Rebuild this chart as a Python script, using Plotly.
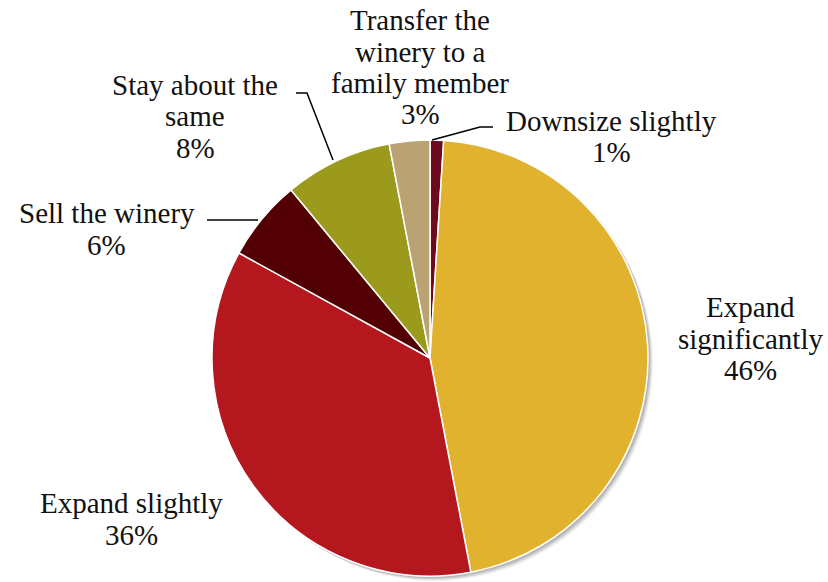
import plotly.graph_objects as go

W, H = 828, 582

# Survey answers, in clockwise order from 12 o'clock
categories = [
    "Downsize slightly",
    "Expand significantly",
    "Expand slightly",
    "Sell the winery",
    "Stay about the same",
    "Transfer the winery to a family member",
]
values = [1, 46, 36, 6, 8, 3]
colors = ["#6E0A1E", "#E1B22E", "#B4181E", "#520004", "#9C9A1C", "#BAA273"]

# How each category label wraps onto lines
label_lines = [
    ["Downsize slightly"],
    ["Expand", "significantly"],
    ["Expand slightly"],
    ["Sell the winery"],
    ["Stay about the", "same"],
    ["Transfer the", "winery to a", "family member"],
]
# Label block anchor (centre x, first-line centre y) in pixels
label_anchor = [
    (611, 121),
    (750, 307),
    (131, 503),
    (107, 213),
    (195, 85),
    (420, 20),
]
LINE_H = 31.5

# Leader lines (pixel polylines)
leaders = {
    "Downsize slightly": [(432, 140), (480, 127), (493, 127)],
    "Stay about the same": [(296, 93), (307, 93), (333, 160)],
    "Sell the winery": [(207, 220), (258, 220)],
}

# Pie placement in pixels
cx, cy, r = 430, 358, 218

FONT = "Liberation Serif"
FSIZE = 29


def px(x):
    return x / W


def py(y):
    return 1 - y / H


fig = go.Figure()

fig.add_trace(go.Pie(
    labels=categories,
    values=values,
    sort=False,
    direction="clockwise",
    rotation=0,
    marker=dict(colors=colors, line=dict(color="white", width=1.5)),
    textinfo="none",
    hoverinfo="label+percent",
    showlegend=False,
    domain=dict(x=[px(cx - r), px(cx + r)], y=[py(cy + r), py(cy - r)]),
))

shapes = []
# soft drop shadow behind the pie
for off, op in [(5, 0.05), (4, 0.07), (3, 0.09), (2, 0.1)]:
    shapes.append(dict(
        type="circle", xref="paper", yref="paper", layer="below",
        x0=px(cx - r + off), x1=px(cx + r + off),
        y0=py(cy + r + off), y1=py(cy - r + off),
        fillcolor=f"rgba(0,0,0,{op})", line=dict(width=0),
    ))

for name, pts in leaders.items():
    path = "M " + " L ".join(f"{px(x)},{py(y)}" for x, y in pts)
    shapes.append(dict(type="path", xref="paper", yref="paper", path=path,
                       line=dict(color="black", width=1.5)))

total = sum(values)
annotations = []
for name, v, lines, (ax, ay) in zip(categories, values, label_lines, label_anchor):
    pct = f"{round(v / total * 100)}%"
    for i, t in enumerate(lines + [pct]):
        annotations.append(dict(
            x=px(ax), y=py(ay + i * LINE_H), xref="paper", yref="paper",
            text=t, showarrow=False, xanchor="center", yanchor="middle",
            font=dict(family=FONT, size=FSIZE, color="#111111"),
        ))

fig.update_layout(
    width=W, height=H,
    margin=dict(l=0, r=0, t=0, b=0),
    paper_bgcolor="white", plot_bgcolor="white",
    shapes=shapes, annotations=annotations,
)

fig.write_html("out.html")
